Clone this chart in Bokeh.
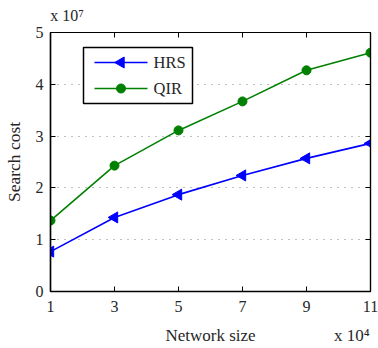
from bokeh.plotting import figure
from bokeh.models import Range1d, LinearAxis, FixedTicker
from bokeh.core.properties import value
from bokeh.embed import file_html
from bokeh.resources import INLINE
import math

network_size = [1, 3, 5, 7, 9, 11]          # x 10^4
hrs = [0.77, 1.43, 1.87, 2.24, 2.57, 2.86]  # x 10^7
qir = [1.37, 2.43, 3.11, 3.67, 4.27, 4.61]  # x 10^7
x_ticks = [1, 3, 5, 7, 9, 11]
y_ticks = [0, 1, 2, 3, 4, 5]
series_names = ["HRS", "QIR"]
x_label = "Network size"
y_label = "Search cost"
x_mult = "x 10\u2074"
y_mult = "x 10\u2077"

FONT = "Liberation Serif"
TXT = "#262626"
BLUE = "#0000ff"
GREEN = "#008000"

W, H = 378, 348
L, T, R, B = 50, 32, 8, 57
X0, X1, Y0, Y1 = 1, 11, 0, 5
FW, FH = W - L - R, H - T - B


def px(xp):
    return X0 + (xp - L) / FW * (X1 - X0)


def py(yp):
    return Y0 + (T + FH - yp) / FH * (Y1 - Y0)


p = figure(width=W, height=H, output_backend="svg", toolbar_location=None,
           x_range=Range1d(X0, X1), y_range=Range1d(Y0, Y1),
           min_border_left=L, min_border_top=T, min_border_right=R, min_border_bottom=B,
           background_fill_color="white", border_fill_color="white")
p.outline_line_color = "black"
p.outline_line_width = 1.2
p.xgrid.visible = False
p.ygrid.ticker = FixedTicker(ticks=y_ticks)
p.ygrid.grid_line_color = "#808080"
p.ygrid.grid_line_dash = "1 6"
p.ygrid.grid_line_width = 1

p.xaxis.ticker = FixedTicker(ticks=x_ticks)
p.yaxis.ticker = FixedTicker(ticks=y_ticks)
for ax in (p.xaxis[0], p.yaxis[0]):
    ax.major_tick_in = 5
    ax.major_tick_out = 0
    ax.minor_tick_line_color = None
    ax.axis_line_width = 1.5
    ax.major_label_text_font = FONT
    ax.major_label_text_font_size = "16px"
    ax.major_label_text_color = TXT
    ax.axis_label_text_font = FONT
    ax.axis_label_text_font_size = "17.5px"
    ax.axis_label_text_font_style = "normal"
    ax.axis_label_text_color = TXT
p.yaxis.axis_label = y_label
p.xaxis.major_label_standoff = 9
p.yaxis.major_label_standoff = 7
p.yaxis.axis_label_standoff = 9

# mirrored tick axes (top / right), no labels
for loc, tk in (("right", y_ticks), ("above", x_ticks)):
    ax = LinearAxis(ticker=FixedTicker(ticks=tk), major_tick_in=5, major_tick_out=0,
                    minor_tick_line_color=None, major_label_text_font_size="0px",
                    major_label_text_color=None,
                    axis_line_width=1.2, major_label_standoff=0)
    p.add_layout(ax, loc)

# text rows: x-axis title with multiplier below, y multiplier above the frame
x_pos = {6: x_label, 10.42: x_mult}
bottom_text = LinearAxis(ticker=FixedTicker(ticks=list(x_pos)), major_label_overrides=x_pos,
                         axis_line_color=None, major_tick_line_color=None,
                         minor_tick_line_color=None, major_label_standoff=5,
                         major_label_text_font=FONT, major_label_text_font_size="17px",
                         major_label_text_color=TXT)
p.add_layout(bottom_text, "below")
y_pos = {1.52: y_mult}
top_text = LinearAxis(ticker=FixedTicker(ticks=list(y_pos)), major_label_overrides=y_pos,
                      axis_line_color=None, major_tick_line_color=None,
                      minor_tick_line_color=None, major_label_standoff=3,
                      major_label_text_font=FONT, major_label_text_font_size="16px",
                      major_label_text_color=TXT)
p.add_layout(top_text, "above")

# legend (drawn manually so the left-pointing triangle shows)
p.quad(left=[px(83)], right=[px(192)], top=[py(47)], bottom=[py(103)],
       fill_color="white", line_color="black", line_width=1.5)

p.line(network_size, hrs, line_color=BLUE, line_width=1.6)
p.scatter(network_size, hrs, marker="triangle", angle=math.pi / 2, size=11,
          fill_color=BLUE, line_color=BLUE)
p.line(network_size, qir, line_color=GREEN, line_width=1.6)
p.scatter(network_size, qir, marker="circle", size=9, fill_color=GREEN, line_color=GREEN)

for name, color, marker, ang, sz, yp in ((series_names[0], BLUE, "triangle", math.pi / 2, 11, 62),
                                          (series_names[1], GREEN, "circle", 0, 9, 88)):
    p.line([px(94), px(147)], [py(yp), py(yp)], line_color=color, line_width=1.6)
    p.scatter([px(120.5)], [py(yp)], marker=marker, angle=ang, size=sz,
              fill_color=color, line_color=color)
    p.text([px(153)], [py(yp)], text=[name], text_font=value(FONT), text_font_size="16.5px",
           text_color=TXT, text_baseline="middle", text_align="left")

open("out.html", "w").write(file_html(p, INLINE))
